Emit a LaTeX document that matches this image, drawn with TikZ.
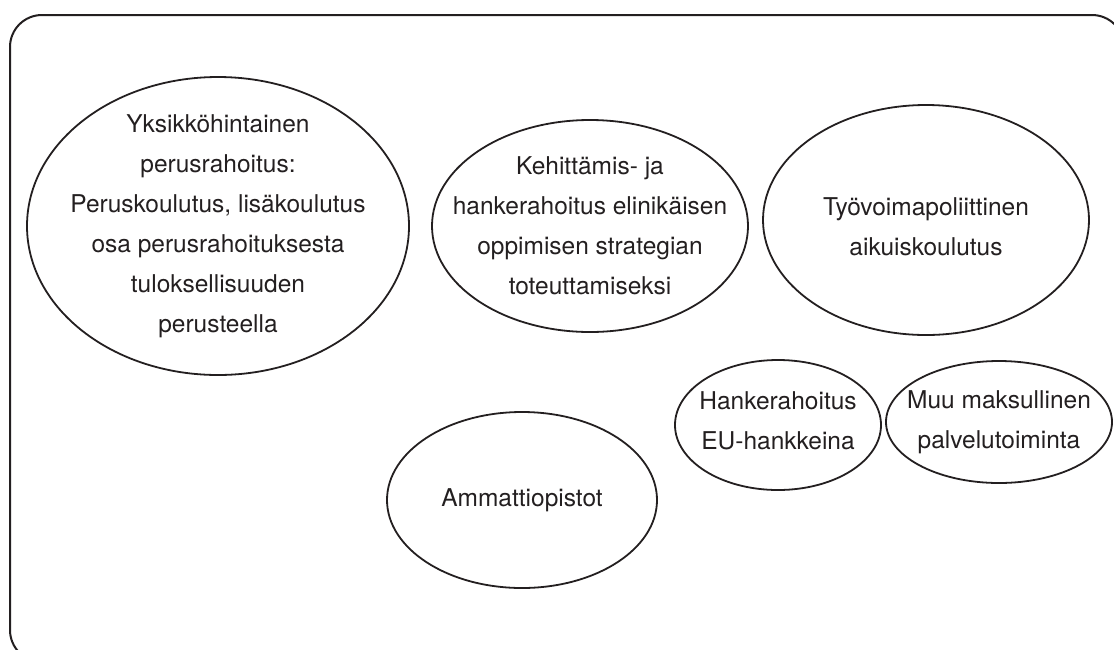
\documentclass[tikz,border=0pt]{standalone}
\usepackage{fontspec}
\setmainfont{TeX Gyre Heros}
\usetikzlibrary{shapes.geometric}
\definecolor{ink}{HTML}{231F20}
\begin{document}
\begin{tikzpicture}[x=1pt,y=-1pt,
  bub/.style={draw=ink, line width=1.8pt, ellipse, inner sep=0pt},
  txt/.style={align=center, font=\fontsize{24.5}{40}\selectfont, text=ink, inner sep=0pt}]
\useasboundingbox (0,0) rectangle (1114,649);
\draw[ink, line width=2pt, rounded corners=32pt] (10,15) rectangle (1124,662);
\node[bub, minimum width=382pt, minimum height=298pt] (e1) at (218,226) {};
\node[txt] (t1) at (e1.center) {Yksikköhintainen\\perusrahoitus:\\Peruskoulutus, lisäkoulutus\\osa perusrahoituksesta\\tuloksellisuuden\\perusteella};
\node[bub, minimum width=316pt, minimum height=212pt] (e2) at (590,226) {};
\node[txt] (t2) at (e2.center) {Kehittämis- ja\\hankerahoitus elinikäisen\\oppimisen strategian\\toteuttamiseksi};
\node[bub, minimum width=326pt, minimum height=230pt] (e3) at (926,220) {};
\node[txt] (t3) at (926,227) {Työvoimapoliittinen\\aikuiskoulutus};
\node[bub, minimum width=206pt, minimum height=130pt] (e4) at (778,425) {};
\node[txt] (t4) at (778,421) {Hankerahoitus\\EU-hankkeina};
\node[bub, minimum width=226pt, minimum height=122pt] (e5) at (999,422) {};
\node[txt] (t5) at (e5.center) {Muu maksullinen\\palvelutoiminta};
\node[bub, minimum width=270pt, minimum height=176pt] (e6) at (522,500) {};
\node[txt] (t6) at (e6.center) {Ammattiopistot};
\end{tikzpicture}
\end{document}
